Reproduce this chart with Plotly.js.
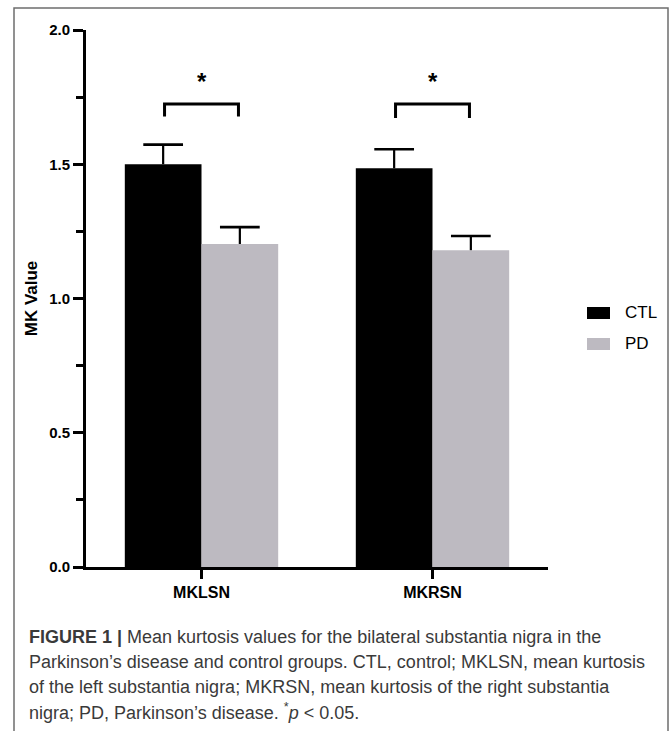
<!DOCTYPE html>
<html>
<head>
<meta charset="utf-8">
<script src="https://cdn.plot.ly/plotly-3.0.1.min.js"></script>
<style>html,body{margin:0;padding:0;background:#fff;}#chart{width:670px;height:731px;}</style>
</head>
<body>
<div id="chart"></div>
<script>
// ---- data ----
const categories = ["MKLSN", "MKRSN"];
const seriesNames = ["CTL", "PD"];
const ctlValues = [1.50, 1.485];
const ctlErrors = [0.073, 0.071];
const pdValues = [1.203, 1.180];
const pdErrors = [0.063, 0.053];
const sigLabels = ["*", "*"];
const sigBarTop = [1.724, 1.724];
const sigLegBottom = [1.678, 1.672];
const sigStarY = [1.81, 1.81];
const yTickVals = [0, 0.5, 1.0, 1.5, 2.0];
const yTickText = ["0.0", "0.5", "1.0", "1.5", "2.0"];
const captionLines = [
  "<b>FIGURE 1 |</b> Mean kurtosis values for the bilateral substantia nigra in the",
  "Parkinson’s disease and control groups. CTL, control; MKLSN, mean kurtosis",
  "of the left substantia nigra; MKRSN, mean kurtosis of the right substantia",
  "nigra; PD, Parkinson’s disease. <sup>*</sup><i>p</i> &lt; 0.05."
];

// ---- layout helpers (pixel -> paper) ----
const L = 86, R = 548, T = 30, B = 567;
const W = R - L, H = B - T;
const px = x => (x - L) / W;
const py = y => (B - y) / H;

const FONT = "Liberation Sans, Arial, sans-serif";
const colors = ["#000000", "#bdbac1"];
const BARGAP = 0.336;
const barW = (1 - BARGAP) / 2;

const traces = [
  {type: "bar", name: seriesNames[0], x: categories, y: ctlValues,
   marker: {color: colors[0], line: {width: 0}}, showlegend: false},
  {type: "bar", name: seriesNames[1], x: categories, y: pdValues,
   marker: {color: colors[1], line: {width: 0}}, showlegend: false}
];

const shapes = [];
const annotations = [];

// upward-only error bars (stem + top cap), in data coordinates
const capHalf = 0.086;
[[ctlValues, ctlErrors, -barW / 2], [pdValues, pdErrors, barW / 2]].forEach(([vals, errs, off]) => {
  vals.forEach((v, i) => {
    const xc = i + off, top = v + errs[i];
    shapes.push({type: "line", xref: "x", yref: "y", x0: xc, x1: xc, y0: v, y1: top,
                 line: {color: "#000", width: 2.2}});
    shapes.push({type: "line", xref: "x", yref: "y", x0: xc - capHalf, x1: xc + capHalf, y0: top, y1: top,
                 line: {color: "#000", width: 2.6}});
  });
});

// significance brackets
const half = 0.16;
categories.forEach((c, i) => {
  shapes.push({
    type: "path", xref: "x", yref: "y",
    path: `M ${i - half},${sigLegBottom[i]} L ${i - half},${sigBarTop[i]} L ${i + half},${sigBarTop[i]} L ${i + half},${sigLegBottom[i]}`,
    line: {color: "#000", width: 3}
  });
  annotations.push({
    xref: "x", yref: "y", x: i, y: sigStarY[i], text: sigLabels[i],
    showarrow: false, xanchor: "center", yanchor: "middle",
    font: {family: FONT, size: 24, color: "#000", weight: "bold"}
  });
});

// custom legend
const legendY = [313, 344];
seriesNames.forEach((n, i) => {
  shapes.push({
    type: "rect", xref: "paper", yref: "paper",
    x0: px(587), x1: px(610), y0: py(legendY[i] - 6), y1: py(legendY[i] + 6),
    fillcolor: colors[i], line: {width: 0}
  });
  annotations.push({
    xref: "paper", yref: "paper", x: px(623), y: py(legendY[i]), text: n,
    showarrow: false, xanchor: "left", yanchor: "middle",
    font: {family: FONT, size: 17, color: "#000"}
  });
});

// outer frame
shapes.push({
  type: "path", xref: "paper", yref: "paper",
  path: `M ${px(14)},${py(745)} L ${px(14)},${py(8)} L ${px(668)},${py(8)} L ${px(668)},${py(745)}`,
  line: {color: "#6e6e6e", width: 1.5}
});

// caption
const capY = [637, 662, 687, 711];
captionLines.forEach((t, i) => {
  annotations.push({
    xref: "paper", yref: "paper", x: px(27), y: py(capY[i]), text: t,
    showarrow: false, xanchor: "left", yanchor: "middle", align: "left",
    font: {family: FONT, size: 18, color: "#3a3a3a"}
  });
});

const layout = {
  width: 670, height: 731, autosize: false,
  margin: {l: L, r: 670 - R, t: T, b: 731 - B, pad: 0},
  paper_bgcolor: "#fff", plot_bgcolor: "#fff",
  barmode: "group", bargap: BARGAP, bargroupgap: 0,
  showlegend: false,
  font: {family: FONT, color: "#000"},
  xaxis: {
    type: "category", range: [-0.5, 1.5],
    showline: true, linecolor: "#000", linewidth: 3,
    ticks: "outside", ticklen: 9, tickwidth: 3, tickcolor: "#000",
    showgrid: false, zeroline: false,
    tickfont: {family: FONT, size: 16, color: "#000", weight: "bold"}
  },
  yaxis: {
    range: [0, 2], tickvals: yTickVals, ticktext: yTickText,
    showline: true, linecolor: "#000", linewidth: 3,
    ticks: "outside", ticklen: 10, tickwidth: 3, tickcolor: "#000",
    minor: {dtick: 0.25, ticks: "outside", ticklen: 7, tickwidth: 3, tickcolor: "#000", showgrid: false},
    showgrid: false, zeroline: false,
    tickfont: {family: FONT, size: 15, color: "#000", weight: "bold"},
    title: {text: "MK Value", standoff: 8,
            font: {family: FONT, size: 17, color: "#000", weight: "bold"}}
  },
  shapes: shapes,
  annotations: annotations
};

Plotly.newPlot("chart", traces, layout, {displayModeBar: false, staticPlot: true});
</script>
</body>
</html>
